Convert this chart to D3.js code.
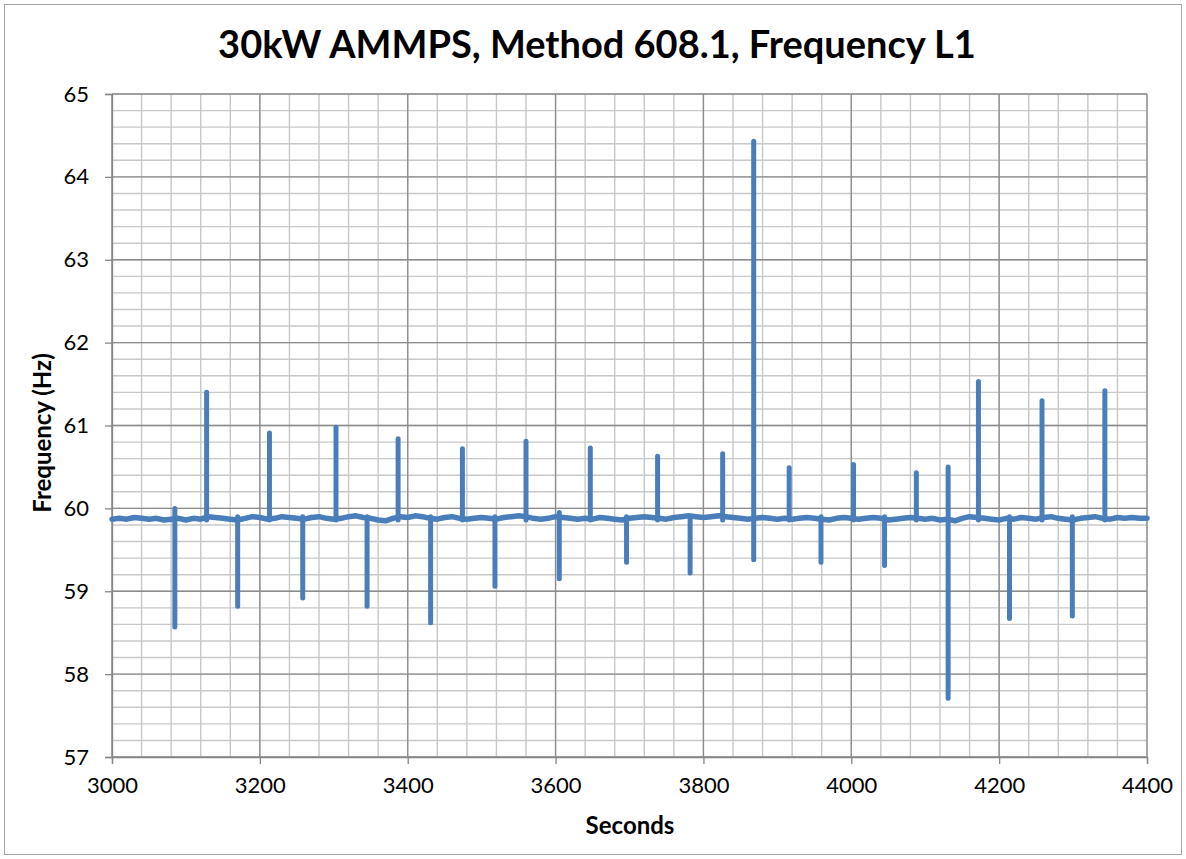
<!DOCTYPE html>
<html>
<head>
<meta charset="utf-8">
<script src="https://cdn.jsdelivr.net/npm/d3@7"></script>
<style>
  body { margin: 0; background: #fff; }
  text { font-family: Lato, "Open Sans", sans-serif; fill: #000; }
</style>
</head>
<body>
<script>
// tick labels
var xTicks = [3000, 3200, 3400, 3600, 3800, 4000, 4200, 4400];
var yTicks = [57, 58, 59, 60, 61, 62, 63, 64, 65];

// baseline frequency, one reading every 10 s from 3000 to 4400
var baseStart = 3000;
var baseStep = 10;
var baseHz = [
  59.87,59.88,59.87,59.89,59.88,59.87,59.88,59.86,59.87,59.88,
  59.86,59.88,59.87,59.90,59.89,59.88,59.87,59.86,59.88,59.90,
  59.89,59.87,59.88,59.90,59.89,59.88,59.87,59.89,59.90,59.88,
  59.87,59.88,59.90,59.91,59.89,59.88,59.86,59.85,59.88,59.90,
  59.89,59.91,59.90,59.88,59.87,59.89,59.90,59.88,59.87,59.88,
  59.89,59.88,59.87,59.89,59.90,59.91,59.90,59.88,59.87,59.88,
  59.90,59.89,59.88,59.87,59.88,59.87,59.89,59.88,59.87,59.86,
  59.88,59.89,59.90,59.89,59.88,59.87,59.89,59.90,59.91,59.90,
  59.89,59.90,59.91,59.90,59.89,59.88,59.87,59.88,59.89,59.88,
  59.87,59.88,59.87,59.88,59.89,59.88,59.87,59.86,59.88,59.89,
  59.88,59.87,59.88,59.89,59.88,59.86,59.87,59.88,59.89,59.88,
  59.87,59.88,59.86,59.87,59.85,59.88,59.90,59.89,59.88,59.87,
  59.86,59.88,59.87,59.89,59.88,59.87,59.89,59.90,59.88,59.87,
  59.86,59.88,59.89,59.90,59.88,59.87,59.89,59.88,59.89,59.88,
  59.88
];

// transients: time, lowest and highest reading
var spikeSec = [3085,3128,3170,3213,3258,3303,3345,3387,3431,3474,3518,3560,3605,3647,3696,
                3738,3782,3826,3868,3916,3959,4003,4045,4088,4131,4172,4214,4258,4299,4343];
var spikeLo  = [58.57,59.86,58.82,59.86,58.92,59.86,58.82,59.86,58.62,59.86,59.06,59.86,59.15,59.86,59.35,
                59.86,59.22,59.86,59.38,59.86,59.35,59.86,59.31,59.86,57.71,59.86,58.67,59.86,58.70,59.86];
var spikeHi  = [60.00,61.40,59.90,60.91,59.90,60.98,59.90,60.84,59.90,60.72,59.90,60.81,59.95,60.73,59.90,
                60.63,59.90,60.66,64.43,60.49,59.90,60.53,59.90,60.43,60.50,61.53,59.90,61.30,59.90,61.42];

var w = 1186;
var h = 859;
var svg = d3.select("body").append("svg")
    .attr("width", w)
    .attr("height", h);

// chart border
svg.append("rect")
    .attr("x", 4.5)
    .attr("y", 4.5)
    .attr("width", 1177)
    .attr("height", 850)
    .attr("fill", "white")
    .attr("stroke", "#a6a6a6")
    .attr("stroke-width", 1);

var x = d3.scaleLinear().domain([3000, 4400]).range([112, 1147]);
var y = d3.scaleLinear().domain([57, 65]).range([757, 94]);

// minor grid
var minorX = d3.range(3000, 4400.1, 40);
var minorY = d3.range(57, 65.01, 0.2);
svg.append("g").selectAll("line").data(minorX).join("line")
    .attr("x1", d => x(d)).attr("x2", d => x(d))
    .attr("y1", y(57)).attr("y2", y(65))
    .attr("stroke", "#c8c8c8").attr("stroke-width", 1.4);
svg.append("g").selectAll("line").data(minorY).join("line")
    .attr("x1", x(3000)).attr("x2", x(4400))
    .attr("y1", d => y(d)).attr("y2", d => y(d))
    .attr("stroke", "#c8c8c8").attr("stroke-width", 1.4);

// major grid
svg.append("g").selectAll("line").data(xTicks).join("line")
    .attr("x1", d => x(d)).attr("x2", d => x(d))
    .attr("y1", y(57)).attr("y2", y(65))
    .attr("stroke", "#8c8c8c").attr("stroke-width", 1.3);
svg.append("g").selectAll("line").data(yTicks).join("line")
    .attr("x1", x(3000)).attr("x2", x(4400))
    .attr("y1", d => y(d)).attr("y2", d => y(d))
    .attr("stroke", "#8c8c8c").attr("stroke-width", 1.3);

// axes
var xAxis = svg.append("g")
    .attr("transform", "translate(0," + y(57) + ")")
    .call(d3.axisBottom(x).tickValues(xTicks).tickSize(7).tickPadding(13).tickFormat(d3.format("d")));
var yAxis = svg.append("g")
    .attr("transform", "translate(" + x(3000) + ",0)")
    .call(d3.axisLeft(y).tickValues(yTicks).tickSize(7).tickPadding(16).tickFormat(d3.format("d")));
[xAxis, yAxis].forEach(function (g) {
  g.select(".domain").attr("stroke", "#868686").attr("stroke-width", 1.3);
  g.selectAll(".tick line").attr("stroke", "#868686").attr("stroke-width", 1.3);
  g.selectAll(".tick text").attr("font-family", "Lato, 'Open Sans', sans-serif")
    .attr("font-size", 22).attr("fill", "#000");
});

// baseline trace
var baseData = baseHz.map((v, i) => [baseStart + i * baseStep, v]);
var line = d3.line().x(d => x(d[0])).y(d => y(d[1]));
svg.append("path")
    .datum(baseData)
    .attr("d", line)
    .attr("fill", "none")
    .attr("stroke", "#4a7ebb")
    .attr("stroke-width", 5.5)
    .attr("stroke-linejoin", "round")
    .attr("stroke-linecap", "round");

// transients
svg.append("g").selectAll("path").data(spikeSec).join("path")
    .attr("d", (d, i) => line([[d, spikeLo[i]], [d, spikeHi[i]]]))
    .attr("fill", "none")
    .attr("stroke", "#4a7ebb")
    .attr("stroke-width", 5)
    .attr("stroke-linecap", "round");

// titles
svg.append("text")
    .attr("x", 597)
    .attr("y", 58)
    .attr("text-anchor", "middle")
    .attr("font-size", 38)
    .attr("font-weight", "bold")
    .text("30kW AMMPS, Method 608.1, Frequency L1");

svg.append("text")
    .attr("x", 630)
    .attr("y", 834)
    .attr("text-anchor", "middle")
    .attr("font-size", 24)
    .attr("font-weight", "bold")
    .text("Seconds");

svg.append("text")
    .attr("transform", "translate(51,433) rotate(-90)")
    .attr("text-anchor", "middle")
    .attr("font-size", 24)
    .attr("font-weight", "bold")
    .text("Frequency (Hz)");
</script>
</body>
</html>
